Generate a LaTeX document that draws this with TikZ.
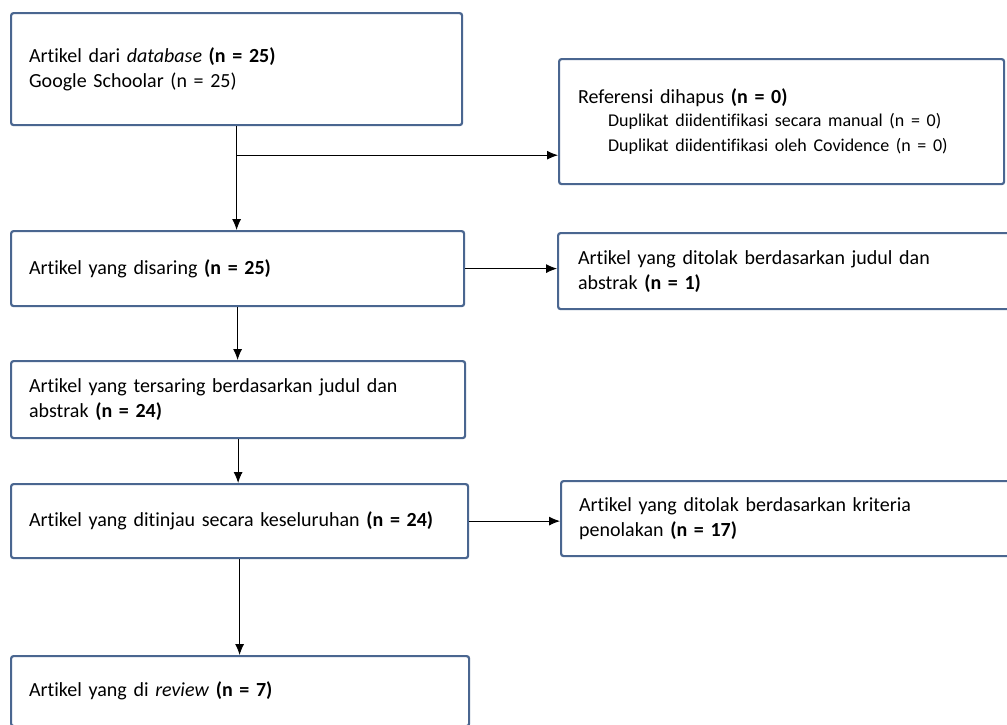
\documentclass[tikz,border=0pt]{standalone}
\usepackage{fontspec}
\setmainfont{Carlito}[Ligatures=NoCommon]
\usetikzlibrary{arrows.meta}
\definecolor{boxc}{HTML}{4A6690}
\tikzset{
  box/.style={draw=boxc, line width=2.2pt, rounded corners=2.5pt, fill=white,
    align=left, anchor=north west, inner xsep=18pt, inner ysep=0pt,
    font=\fontsize{20}{25}\selectfont},
  arr/.style={draw=black, line width=0.9pt, -{Latex[length=11pt,width=9pt]}},
  plain/.style={draw=black, line width=0.9pt}
}
\begin{document}
\begin{tikzpicture}[x=1pt,y=-1pt]
\useasboundingbox (0,0) rectangle (1007,724);
\node[box, text width=415pt, minimum height=112pt] (b1) at (10,12)
  {Artikel dari \textit{database} \textbf{(n = 25)}\\Google Schoolar (n = 25)};
\node[box, inner xsep=19pt, text width=407pt, minimum height=125pt] (b2) at (558,58)
  {Referensi dihapus \textbf{(n = 0)}\\
   {\fontsize{18}{23}\selectfont\hspace*{30pt}Duplikat diidentifikasi secara manual (n = 0)\\
   \hspace*{30pt}Duplikat diidentifikasi oleh Covidence (n = 0)}};
\node[box, text width=417pt, minimum height=75pt] (b3) at (10,230)
  {Artikel yang disaring \textbf{(n = 25)}};
\node[box, text width=418pt, minimum height=77pt] (b4) at (10,360)
  {Artikel yang tersaring berdasarkan judul dan\\abstrak \textbf{(n = 24)}};
\node[box, inner xsep=20pt, text width=423pt, minimum height=76pt] (b5) at (557,232)
  {Artikel yang ditolak berdasarkan judul dan\\abstrak \textbf{(n = 1)}};
\node[box, text width=421pt, minimum height=74pt] (b6) at (10,483)
  {Artikel yang ditinjau secara keseluruhan \textbf{(n = 24)}};
\node[box, text width=424pt, minimum height=75pt] (b8) at (560,480)
  {Artikel yang ditolak berdasarkan kriteria\\penolakan \textbf{(n = 17)}};
\node[box, text width=422pt, minimum height=70pt] (b7) at (10,655)
  {Artikel yang di \textit{review} \textbf{(n = 7)}};
\coordinate (j1) at ([yshift=-29pt]b1.south);
\draw[arr] (b1.south) -- (b1.south |- b3.north);
\draw[arr] (j1) -- (j1 -| b2.west);
\draw[arr] (b3.east) -- (b3.east -| b5.west);
\draw[arr] (b3.south) -- (b3.south |- b4.north);
\draw[arr] (b4.south) -- (b4.south |- b6.north);
\draw[arr] (b6.east) -- (b6.east -| b8.west);
\draw[arr] (b6.south) -- (b6.south |- b7.north);
\end{tikzpicture}
\end{document}
